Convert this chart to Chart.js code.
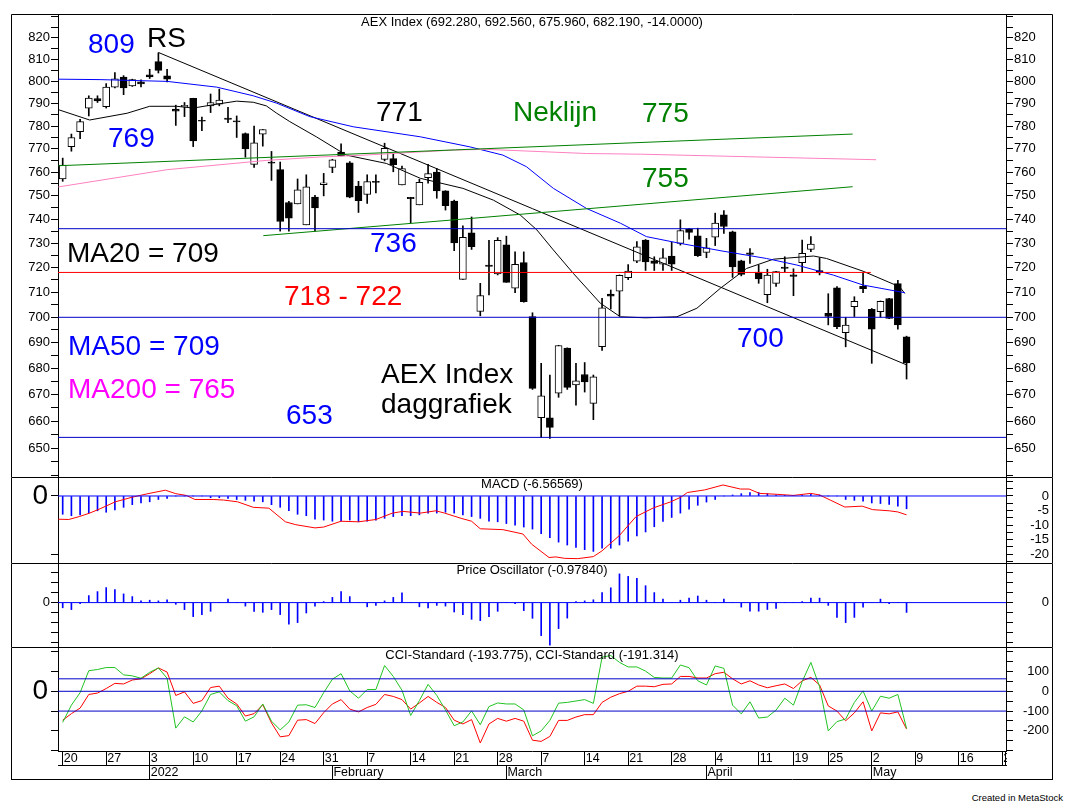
<!DOCTYPE html>
<html>
<head>
<meta charset="utf-8">
<title>AEX Index daggrafiek</title>
<script src="https://cdn.jsdelivr.net/npm/chart.js@4.4.1/dist/chart.umd.min.js"></script>
<style>
  html, body { margin: 0; padding: 0; background: #fff; }
  body { width: 1066px; height: 804px; position: relative; overflow: hidden; font-family: Arial, "Liberation Sans", sans-serif; }
  canvas { position: absolute; left: 11px; }
  #credit { position: absolute; right: 3px; top: 792px; font-size: 9.5px; color: #000; }
</style>
</head>
<body>
<canvas id="main" width="1042" height="463" style="top:14px"></canvas>
<canvas id="macd" width="1042" height="86" style="top:477px"></canvas>
<canvas id="po" width="1042" height="84" style="top:563px"></canvas>
<canvas id="cci" width="1042" height="133" style="top:647px"></canvas>
<div id="credit">Created in MetaStock</div>
<script>
// daily candles, 20 Dec 2021 .. 6 May 2022 (index = trading day)
const opens = [757, 771, 777.5, 788, 792.3, 788.6, 797.4, 802, 798, 799.8,
  803, 809, 802.5, 787.5, 788.6, 792.4, 782.6, 789, 789.8, 783.5,
  782.3, 776.7, 763.3, 776.4, 764.3, 761, 747, 746.4, 737.6, 749.3,
  754.6, 762, 768.6, 764, 754, 750.4, 756, 765.4, 765.8, 754.5,
  749.2, 746, 757.6, 760, 751.9, 747.6, 715.2, 734.3, 702.3, 721,
  717.4, 729.3, 711.6, 722, 700.3, 661.3, 661.3, 670.6, 687.9, 673.7,
  677.7, 666.7, 688.5, 709.3, 710.4, 715.9, 722.6, 731.3, 722.7, 721.4,
  724.7, 729.9, 735.8, 733, 726.2, 732.5, 741.8, 734.7, 722.7, 726,
  718.1, 709, 713.6, 720.2, 717, 722, 727.4, 718.8, 701.6, 711.8,
  693.9, 704.2, 712.4, 703.2, 702.2, 707.5, 713.5, 692.28];
const highs = [766, 776.5, 783, 793.5, 793.5, 799, 804, 802.6, 801, 800.7,
  805.5, 813, 805.5, 789.3, 790.5, 792.4, 784, 794.3, 796.5, 788.3,
  784.5, 777, 780, 778.5, 768.9, 764.3, 747.5, 757, 758.8, 750,
  759.4, 765.5, 772.2, 764.5, 756, 758.8, 758.8, 772.5, 768, 762.6,
  749.2, 756.9, 763.3, 761.5, 752, 748, 737.2, 740.9, 713.6, 731.2,
  732.3, 732.9, 726.4, 726.4, 701.8, 682, 677.5, 689, 688, 682,
  682.3, 677.5, 707.6, 710.9, 717, 721.2, 730.7, 731.5, 724.4, 727.8,
  730.4, 739.7, 736, 736.2, 732, 742.5, 743.6, 735, 723, 727.8,
  721, 719.3, 718.5, 724.4, 719.5, 731.3, 732.7, 724, 709.4, 712.3,
  700, 708.2, 717.6, 703.5, 706.5, 707.6, 714.8, 692.56];
const lows = [756, 769, 774.5, 784.5, 790.5, 788, 797, 794, 797.7, 797.5,
  801.3, 803.8, 799.7, 780.3, 784.2, 771, 778, 786, 789, 781.5,
  775, 766.4, 762, 771.2, 756.4, 735, 735, 746.4, 737.6, 735,
  749.8, 759.7, 766.9, 749, 742.8, 746.6, 751.1, 764.8, 760.1, 754.5,
  738.5, 746, 755.2, 748.8, 743.8, 726.9, 715.2, 727.4, 700.6, 708.9,
  717, 714, 709.8, 706, 672, 654, 653.6, 669, 672, 666,
  671, 660.6, 687, 703.3, 700.5, 715.1, 722, 718.8, 718.8, 718.8,
  718.8, 729.2, 731.6, 724.5, 724, 729, 734, 716, 716.6, 721.7,
  713.6, 705.8, 712.3, 718.3, 708.6, 718, 726.5, 717, 697, 695.5,
  688.4, 700.3, 709.8, 682, 700, 699.5, 695.3, 675.96];
const closes = [763, 775, 782, 792.5, 791.2, 797.4, 801.2, 797, 800.8, 798.8,
  802, 805, 801, 786.6, 789.2, 773.5, 782.2, 790.5, 791.6, 783,
  781.8, 770, 772.7, 778.5, 763.8, 739, 740.4, 752.4, 753.6, 744.7,
  755.4, 765.3, 767, 749.3, 747.8, 755.9, 755.5, 770.3, 763.2, 761.5,
  748.6, 755.6, 759.3, 751.9, 745.7, 730.1, 732.4, 728.5, 708.7, 720.5,
  731.2, 714, 721.3, 706.2, 672.4, 669.6, 657.7, 688.9, 672.8, 675.3,
  674.9, 676.8, 703.8, 708.4, 716.8, 718.6, 728.5, 722.3, 721.7, 724,
  721.4, 735.2, 734.5, 724.8, 728.1, 738.3, 736.9, 720.2, 717.2, 725.4,
  715.4, 716.9, 718.3, 719.6, 716.4, 725.8, 729.6, 717.8, 700.3, 696.3,
  696.9, 706.4, 711.4, 695.3, 706.4, 699.6, 697, 682.19];

// moving averages (index, value)
const ma20Idx = [-0.5, 3.1, 7.4, 10, 13.1, 15, 17.3, 20, 21.9, 23.4, 24.6, 26.1, 29.2, 32.6, 37.2, 41.1, 46, 49.5,
  52.6, 54.5, 56.4, 58.7, 61.8, 64.1, 67, 70.6, 72.9, 75.6, 78.6, 81.7, 86.3, 87.8, 92, 96.2, 96.8];
const ma20Val = [787.3, 782.7, 785.7, 788.8, 788.8, 788, 789.5, 791.1, 790.6, 789, 785.7, 782, 775.2, 767.3, 763.7, 757.3, 753, 748,
  741.7, 735.5, 727.2, 717.6, 705.6, 700.2, 699.8, 700.2, 703.6, 711.6, 719.6, 723.4, 724.7, 723.7, 718.5, 712.2, 709.5];
const ma50Idx = [-0.5, 4.3, 12, 17.7, 21.9, 24.6, 28.4, 33.4, 41.1, 46.8, 50.6, 53.3, 56.4, 60.2, 64.1, 67.1, 71, 75.9, 80.9, 84.4, 88.6, 92, 96.8];
const ma50Val = [801, 800.8, 800, 797.4, 793.5, 790.2, 784.2, 779.7, 775.3, 770.9, 767.3, 762.3, 753, 744.5, 738.3, 732.7, 729.9, 726.7, 723.7, 721, 716.9, 712.9, 709.8];
const ma200Idx = [-0.5, 12, 23.4, 29.6, 34.2, 44.9, 48.7, 60.2, 66.4, 93.5];
const ma200Val = [753.6, 761, 765, 766.5, 767.2, 769.5, 769.8, 768, 767.7, 765.3];

// drawn lines
const rsIdx = [11, 97], rsVal = [813.2, 681.4];
const neckIdx = [-0.5, 90.8], neckVal = [762.7, 776.5];
const supIdx = [23.06, 90.8], supVal = [733.1, 753.7];
const blueLevels = [736, 700, 654];
const redLevel = 718, redLevelEnd = 92.9;
const priceLabels = [650, 660, 670, 680, 690, 700, 710, 720, 730, 740, 750, 760, 770, 780, 790, 800, 810, 820];

// MACD panel
const macdHist = [-6.3, -6.8, -6.5, -5.9, -5.1, -5.6, -4.8, -3.9, -3.0, -2.4,
  -2.0, -1.2, -0.8, 0, 0, 0, 0, -0.6, -0.6, -0.8,
  -1.2, -1.5, -1.8, -2.0, -3.0, -3.9, -5.1, -6.3, -6.8, -8.0,
  -8.3, -8.7, -8.7, -8.3, -8.9, -8.7, -8.3, -7.7, -7.1, -6.8,
  -6.8, -6.5, -5.9, -5.9, -5.6, -5.9, -6.5, -7.1, -7.7, -8.7,
  -8.9, -9.5, -10.1, -10.7, -11.4, -13.0, -14.4, -15.9, -16.9, -17.7,
  -18.5, -19.1, -18.0, -18.0, -16.9, -15.6, -13.8, -12.4, -10.6, -8.8,
  -7.4, -5.9, -4.5, -3.2, -2.1, -1.2, 0, 0.35, 0.8, 1.2,
  1.2, 0.8, 0.35, 0.2, 0.2, 0.35, 0.6, 0.35, 0, 0,
  -1.2, -1.5, -1.8, -2.4, -2.6, -2.9, -3.5, -4.4];
const macdIdx = [-0.5, 0.7, 1.9, 3.1, 4.3, 6.05, 8, 9.8, 11.8, 13, 14.2, 15.2, 17.3, 18.5, 20.1, 21.9, 23.7, 25.6, 26.8, 29, 30,
  32, 34, 36, 37.9, 39.1, 41.1, 42.9, 43.9, 45.8, 47, 48, 50.6, 52.9, 53.9, 55.9, 56.7, 57.7, 59.2, 61, 62, 64, 65.9,
  67.9, 69.9, 71.1, 71.8, 73.8, 75.9, 77.9, 78.9, 80.1, 82, 84, 86, 87, 88.3, 89.9, 91.9, 93.1, 95, 96, 97];
const macdVal = [-8.0, -8.1, -7.1, -5.9, -4.4, -2.0, -0.4, 0.8, 2.0, 0.8, 0.2, -1.2, -1.2, -1.4, -2.0, -3.9, -4.2, -8.9, -9.9, -11.0, -10.7,
  -8.7, -8.9, -8.1, -5.9, -5.3, -5.9, -5.1, -5.9, -7.7, -8.7, -11.3, -11.6, -13.1, -16.6, -21.2, -21.0, -21.5, -21.6, -20.9, -18.9, -13.6, -7.1,
  -4.1, -2.0, -0.35, 1.2, 2.1, 3.8, 2.4, 2.4, 0.9, 0.6, 0.2, 0.9, 0.35, -1.5, -3.8, -3.5, -4.7, -5.1, -5.5, -6.5];

// Price Oscillator panel
const poHist = [-0.52, -0.7, -0.1, 0.7, 1.1, 1.5, 1.3, 0.87, 0.6, 0.17,
  0.24, 0.17, 0.28, -0.17, -0.7, -1.4, -1.2, -0.87, 0, 0.35,
  0, -0.35, -0.87, -0.97, -0.7, -1.2, -2.16, -2.0, -1.04, -0.35,
  0.1, 0.52, 1.1, 0.6, 0, -0.42, -0.28, 0.17, 0.52, 0.97,
  0, -0.42, -0.52, -0.28, -0.35, -0.94, -1.2, -1.67, -1.8, -1.4,
  -0.87, 0, -0.1, -0.8, -1.57, -3.3, -4.25, -2.6, -1.55, 0.1,
  0.17, 0.28, 1.0, 1.48, 2.87, 2.62, 2.42, 1.69, 1.0, 0.35,
  0, 0.24, 0.45, 0.66, 0.24, 0, 0.35, 0, -0.45, -0.86,
  -0.86, -0.69, -0.59, 0, 0, 0.1, 0.45, 0.45, -0.28, -1.48,
  -2.0, -1.48, -0.45, 0, 0.35, -0.1, 0, -0.98];

// CCI panel
const cciGreen = [-157, -70, -7, 104, 110, 120, 120, 83, 78, 66,
  96, 118, 66, -186, -129, -155, -99, -16, -3, -47,
  -73, -151, -129, -64, -151, -195, -155, -70, -68, -82,
  -7, 61, 89, 2, -35, 9, 9, 130, 75, 5,
  -122, -47, 35, -21, -94, -174, -155, -99, -169, -77,
  -59, -64, -64, -94, -225, -200, -147, -60, -56, -49,
  -42, -61, 172, 181, 146, 123, 123, 102, 70, 67,
  67, 133, 119, 53, 32, 128, 116, -70, -114, -53,
  -135, -130, -95, -35, -70, 49, 146, 23, -200, -153,
  -140, -56, 2, -100, -25, -35, -16, -188];
const cciRed = [-146, -113, -85, -16, -9, 14, 40, 37, 57, 63,
  89, 118, 97, -21, -3, -61, -47, 19, 26, -35,
  -64, -125, -113, -68, -160, -230, -224, -146, -143, -163,
  -108, -64, -42, -90, -104, -82, -66, -16, -26, -42,
  -90, -59, -26, -56, -82, -146, -165, -143, -261, -165,
  -137, -151, -137, -151, -247, -253, -228, -147, -147, -130,
  -118, -118, -56, -30, -12, 0, 26, 26, 23, 35,
  37, 75, 75, 67, 67, 89, 96, 63, 37, 53,
  32, 18, 28, 37, 14, 53, 70, 32, -74, -100,
  -149, -109, -53, -200, -109, -114, -104, -191];
const cciLevels = [63, 0, -100];

// date axis
const dayTicks = [0, 5, 10, 15, 20, 25, 30, 35, 40, 45, 50, 55, 60, 65, 70, 75, 80, 84, 88, 93, 98, 103, 108];
const dayLabels = ['20', '27', '3', '10', '17', '24', '31', '7', '14', '21', '28', '7', '14', '21', '28', '4', '11', '19', '25', '2', '9', '16', '23'];
const monthTicks = [10, 31, 51, 74, 93];
const monthLabels = ['2022', 'February', 'March', 'April', 'May'];

const X_MIN = -0.54, X_MAX = 108.43;
const NAVY = '#0000c8', BLUE = '#0000ff', GREEN = '#008000';
const FONT = 'Arial, "Liberation Sans", sans-serif';

Chart.defaults.font.family = FONT;
Chart.defaults.font.size = 13;
Chart.defaults.color = '#000';

const idx = opens.map((_, i) => i);
const pts = (xs, ys) => xs.map((x, k) => ({x: x, y: ys[k]}));
function line(data, color) {
  return {type: 'line', data: data, borderColor: color, borderWidth: 1, pointRadius: 0, fill: false, tension: 0, order: 0};
}
const level = (v, color, x1) => line([{x: X_MIN, y: v}, {x: x1 === undefined ? X_MAX : x1, y: v}], color);
function hist(values, color) {
  return {type: 'bar', data: values.map((v, i) => ({x: i, y: v})), backgroundColor: color, barThickness: 1, grouped: false, order: 1};
}

// frame, titles and free text
const overlay = {
  id: 'overlay',
  afterDraw(chart, args, o) {
    const ctx = chart.ctx, a = chart.chartArea, w = chart.width, h = chart.height;
    ctx.save();
    if (o.mask) {
      ctx.fillStyle = '#fff';
      ctx.fillRect(a.right + 1, a.bottom + 1, w - a.right - 2, o.mask);
      ctx.fillStyle = '#000';
      ctx.fillRect(Math.round(a.right) - 1, a.bottom, 1, o.mask + 1);
    }
    ctx.strokeStyle = '#000';
    ctx.lineWidth = 1;
    ctx.beginPath();
    ctx.moveTo(0.5, h); ctx.lineTo(0.5, 0.5); ctx.lineTo(w - 0.5, 0.5); ctx.lineTo(w - 0.5, h);
    if (o.closed) { ctx.moveTo(0, h - 0.5); ctx.lineTo(w, h - 0.5); }
    ctx.stroke();
    ctx.fillStyle = '#000';
    ctx.font = '13px ' + FONT;
    ctx.textAlign = 'center';
    ctx.textBaseline = 'middle';
    if (o.title) ctx.fillText(o.title, (a.left + a.right) / 2, a.top + o.titleY);
    ctx.textAlign = 'left';
    ctx.textBaseline = 'alphabetic';
    ctx.font = '28px ' + FONT;
    (o.notes || []).forEach(n => {
      ctx.fillStyle = n[3];
      ctx.fillText(n[0], n[1] - 11, n[2] - o.top);
    });
    ctx.restore();
  }
};

function yScale(o) {
  return {
    type: o.type || 'linear', position: o.pos, min: o.min, max: o.max, bounds: 'data',
    afterBuildTicks: s => { s.ticks = o.ticks.map(v => ({value: v})); },
    afterFit: s => { s.width = o.width || 47; s.paddingTop = 0; s.paddingBottom = 0; },
    grid: {drawOnChartArea: false, tickLength: 7, color: '#000'},
    border: {display: true, color: '#000'},
    ticks: {autoSkip: false, padding: o.padding, crossAlign: o.cross || 'near', font: {size: o.size || 13}, callback: o.label}
  };
}
const hiddenX = {type: 'linear', min: X_MIN, max: X_MAX, display: false, offset: false, bounds: 'data'};
const zeroOnly = v => (v === 0 ? '0' : '');
function base(scales, plugin, padRight) {
  return {
    responsive: false, animation: false, events: [],
    layout: {padding: {right: padRight || 0}, autoPadding: false},
    scales: scales,
    plugins: {legend: {display: false}, tooltip: {enabled: false}, overlay: plugin}
  };
}

// ---- price panel
const priceTicks = [];
for (let v = 640; v <= 830; v += 5) priceTicks.push(v);
const priceLabel = v => (priceLabels.indexOf(v) >= 0 ? String(v) : '');
const notes = [
  ['809', 88, 53, BLUE], ['RS', 147, 47, '#000'], ['769', 108, 147, BLUE],
  ['771', 376, 121, '#000'], ['Neklijn', 513, 121, GREEN], ['775', 642, 122, GREEN],
  ['755', 642, 187, GREEN], ['MA20 = 709', 67, 262, '#000'], ['736', 370, 252, BLUE],
  ['718 - 722', 284, 305, '#ff0000'], ['700', 737, 347, BLUE], ['MA50 = 709', 68, 355, BLUE],
  ['MA200 = 765', 68, 398, '#ff00ff'], ['AEX Index', 381, 383, '#000'],
  ['daggrafiek', 381, 413, '#000'], ['653', 286, 424, BLUE]
];

new Chart(document.getElementById('main'), {
  type: 'bar',
  data: {
    datasets: blueLevels.map(v => level(v, NAVY)).concat([
      level(redLevel, '#ff0000', redLevelEnd),
      line(pts(neckIdx, neckVal), GREEN),
      line(pts(supIdx, supVal), GREEN),
      line(pts(ma200Idx, ma200Val), '#ff80c0'),
      line(pts(ma50Idx, ma50Val), BLUE),
      line(pts(ma20Idx, ma20Val), '#000'),
      line(pts(rsIdx, rsVal), '#000'),
      {type: 'bar', data: idx.map(i => ({x: i, y: [lows[i], highs[i]]})), backgroundColor: '#000',
        barThickness: 1, grouped: false, order: 3},
      {type: 'bar', data: idx.map(i => ({x: i, y: [opens[i], closes[i]]})),
        backgroundColor: idx.map(i => (closes[i] < opens[i] ? '#000' : '#fff')),
        borderColor: '#000', borderWidth: 1, borderSkipped: false, barThickness: 7, grouped: false, order: 2}
    ])
  },
  options: base({
    x: hiddenX,
    y: yScale({type: 'logarithmic', pos: 'left', min: 639.5, max: 831.1, ticks: priceTicks, padding: 1, label: priceLabel}),
    yr: yScale({type: 'logarithmic', pos: 'right', min: 639.5, max: 831.1, ticks: priceTicks, padding: 1, label: priceLabel})
  }, {title: 'AEX Index (692.280, 692.560, 675.960, 682.190, -14.0000)', titleY: 8, notes: notes, top: 14}),
  plugins: [overlay]
});

// ---- MACD panel
const macdRight = [];
for (let v = 5; v >= -22.5; v -= 2.5) macdRight.push(v);
new Chart(document.getElementById('macd'), {
  type: 'bar',
  data: {datasets: [hist(macdHist, BLUE), level(0, BLUE), line(pts(macdIdx, macdVal), '#ff0000')]},
  options: base({
    x: hiddenX,
    y: yScale({pos: 'left', min: -23.1, max: 6.55, ticks: [0, -20], padding: 3, size: 28, label: zeroOnly}),
    yr: yScale({pos: 'right', min: -23.1, max: 6.55, ticks: macdRight, padding: 0, cross: 'far', width: 43,
      label: v => ([0, -5, -10, -15, -20].indexOf(v) >= 0 ? String(v) : '')})
  }, {title: 'MACD (-6.56569)', titleY: 7}, 4),
  plugins: [overlay]
});

// ---- Price Oscillator panel
const poTicks = [3, 2, 1, 0, -1, -2, -3, -4];
new Chart(document.getElementById('po'), {
  type: 'bar',
  data: {datasets: [hist(poHist, BLUE), level(0, BLUE)]},
  options: base({
    x: hiddenX,
    y: yScale({pos: 'left', min: -4.44, max: 3.96, ticks: poTicks, padding: 1, label: zeroOnly}),
    yr: yScale({pos: 'right', min: -4.44, max: 3.96, ticks: poTicks, padding: 0, cross: 'far', width: 43, label: zeroOnly})
  }, {title: 'Price Oscillator (-0.97840)', titleY: 7}, 4),
  plugins: [overlay]
});

// ---- CCI panel with date axis
const cciRight = [200, 150, 100, 50, 0, -50, -100, -150, -200, -250, -300];
function dateAxis(ticks, labels, h, weight) {
  return {
    type: 'linear', position: 'bottom', min: X_MIN, max: X_MAX, offset: false, bounds: 'data', weight: weight,
    afterBuildTicks: s => { s.ticks = ticks.map(v => ({value: v})); },
    afterFit: s => { s.height = h; s.paddingLeft = 0; s.paddingRight = 0; },
    grid: {drawOnChartArea: false, tickLength: h, color: '#000'},
    border: {display: true, color: '#000'},
    ticks: {autoSkip: false, maxRotation: 0, minRotation: 0, align: 'start', padding: -h, labelOffset: 1,
      font: {size: 12.5}, callback: (v, i) => labels[i]}
  };
}
new Chart(document.getElementById('cci'), {
  type: 'line',
  data: {datasets: cciLevels.map(v => level(v, NAVY)).concat([
    line(pts(idx, cciGreen), '#22c322'),
    line(pts(idx, cciRed), '#ff0000')
  ])},
  options: base({
    x: dateAxis(dayTicks, dayLabels, 14, 0),
    x2: dateAxis(monthTicks, monthLabels, 15, 1),
    y: yScale({pos: 'left', min: -301.6, max: 223.7, ticks: [200, 100, 0, -100, -200, -300], padding: 3, size: 28, label: zeroOnly}),
    yr: yScale({pos: 'right', min: -301.6, max: 223.7, ticks: cciRight, padding: 0, cross: 'far', width: 43,
      label: v => ([100, 0, -100, -200].indexOf(v) >= 0 ? String(v) : '')})
  }, {title: 'CCI-Standard (-193.775), CCI-Standard (-191.314)', titleY: 8, closed: true, mask: 13}, 4),
  plugins: [overlay]
});
</script>
</body>
</html>
